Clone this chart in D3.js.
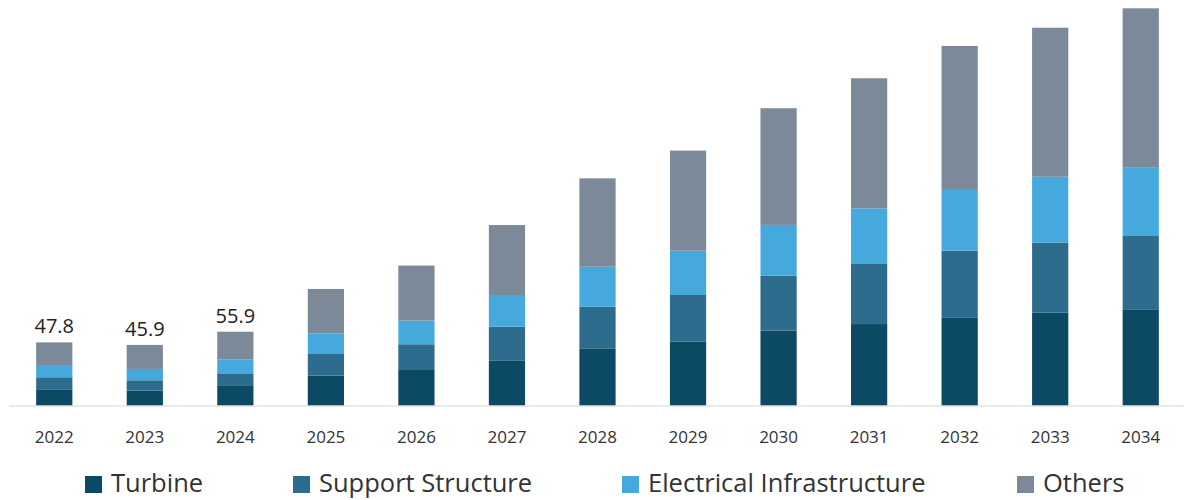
<!DOCTYPE html>
<html>
<head>
<meta charset="utf-8">
<script src="https://cdn.jsdelivr.net/npm/d3@7"></script>
<style>
  body { margin: 0; background: #fff; }
  text { font-family: "Open Sans", "Noto Sans", sans-serif; }
</style>
</head>
<body>
<svg width="1184" height="500"></svg>
<script>
// data
const years = ["2022", "2023", "2024", "2025", "2026", "2027", "2028", "2029", "2030", "2031", "2032", "2033", "2034"];
const segments = ["Turbine", "Support Structure", "Electrical Infrastructure", "Others"];
const turbine = [12.3, 11.2, 14.8, 22.6, 26.9, 34.2, 43.3, 48.3, 56.7, 61.7, 66.8, 70.3, 72.9];
const support = [9.1, 7.9, 9.6, 16.4, 19.5, 25.5, 31.5, 35.4, 41.7, 46.0, 50.5, 53.0, 55.5];
const electrical = [9.3, 8.6, 10.6, 15.7, 17.9, 24.0, 30.3, 33.6, 38.4, 41.7, 46.0, 50.0, 51.7];
const others = [17.1, 18.2, 20.9, 33.6, 41.7, 53.0, 67.0, 75.8, 88.4, 98.5, 109.1, 112.9, 120.8];
const totalLabels = ["47.8", "45.9", "55.9"];   // only the first three bars carry a label

const svg = d3.select("svg"),
    width = +svg.attr("width"),
    height = +svg.attr("height");

const colors = ["#0b4a62", "#2d6c8c", "#45a9dd", "#7b8999"];
const color = d3.scaleOrdinal().domain(segments).range(colors);

const baseY = 405.5;

const x = d3.scaleBand()
    .domain(years)
    .range([9, 1186])
    .paddingInner(0.6)
    .paddingOuter(0.3);

const y = d3.scaleLinear()
    .domain([0, 300])
    .range([baseY, baseY - 396]);

const rows = years.map((yr, i) => ({
    year: yr,
    "Turbine": turbine[i],
    "Support Structure": support[i],
    "Electrical Infrastructure": electrical[i],
    "Others": others[i]
}));

const series = d3.stack().keys(segments)(rows);

// bars
svg.append("g")
    .selectAll("g")
    .data(series)
    .join("g")
    .attr("fill", d => color(d.key))
    .selectAll("rect")
    .data(d => d)
    .join("rect")
    .attr("x", d => x(d.data.year))
    .attr("y", d => y(d[1]))
    .attr("width", x.bandwidth())
    .attr("height", d => y(d[0]) - y(d[1]));

// axis line
svg.append("line")
    .attr("x1", 9)
    .attr("x2", width)
    .attr("y1", baseY + 0.5)
    .attr("y2", baseY + 0.5)
    .attr("stroke", "#d4d4d4")
    .attr("stroke-width", 1);

// year labels
svg.append("g")
    .selectAll("text")
    .data(years)
    .join("text")
    .attr("x", d => x(d) + x.bandwidth() / 2)
    .attr("y", 443)
    .attr("text-anchor", "middle")
    .style("font-size", "17px")
    .style("fill", "#333")
    .text(d => d);

// total labels on the first bars
const lastLayer = series[series.length - 1];
svg.append("g")
    .selectAll("text")
    .data(totalLabels)
    .join("text")
    .attr("x", (d, i) => x(years[i]) + x.bandwidth() / 2)
    .attr("y", (d, i) => y(lastLayer[i][1]) - 9)
    .attr("text-anchor", "middle")
    .style("font-size", "20px")
    .style("fill", "#222")
    .text(d => d);

// legend
const legendX = [85, 293, 622, 1017];
const legend = svg.append("g")
    .selectAll("g")
    .data(segments)
    .join("g")
    .attr("transform", (d, i) => `translate(${legendX[i]},476)`);

legend.append("rect")
    .attr("width", 17)
    .attr("height", 17)
    .attr("fill", d => color(d));

legend.append("text")
    .attr("x", 26)
    .attr("y", 16)
    .style("font-size", "25.5px")
    .style("fill", "#333")
    .text(d => d);
</script>
</body>
</html>
